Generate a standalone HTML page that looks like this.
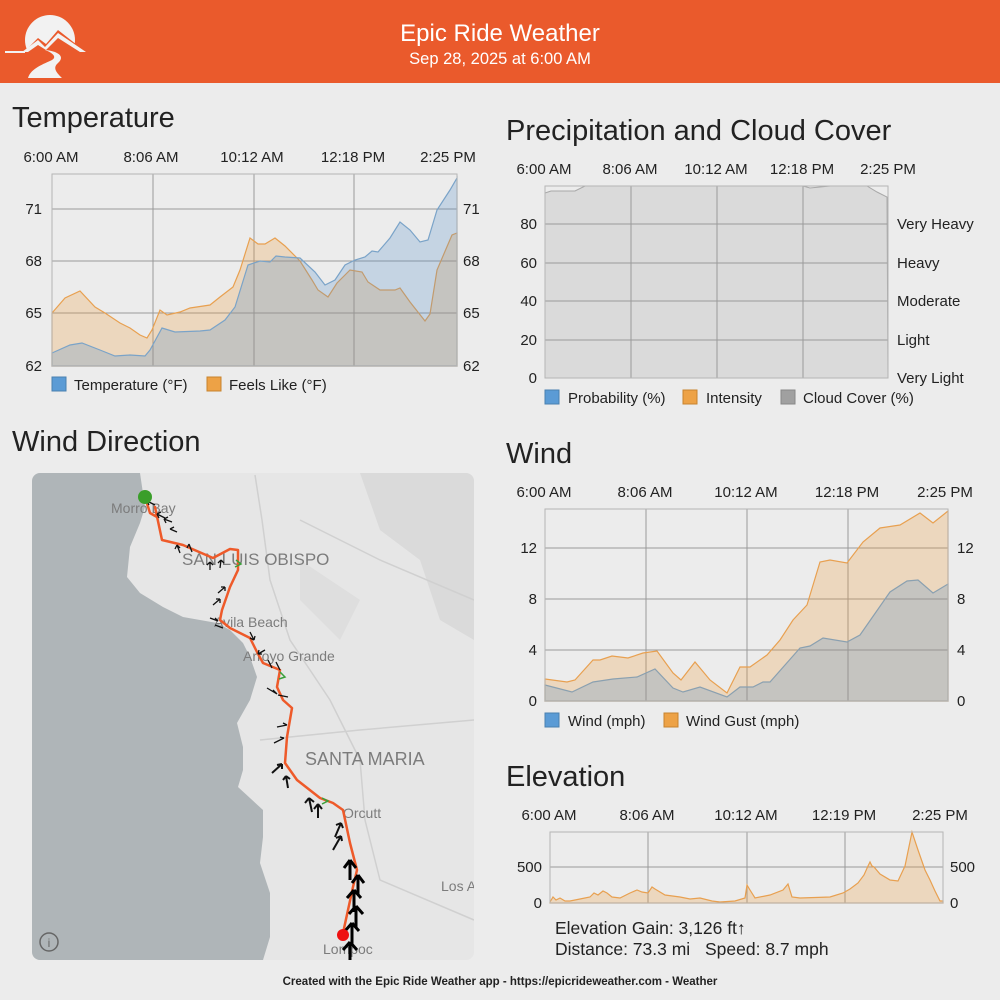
<!DOCTYPE html>
<html><head><meta charset="utf-8"><style>
html,body{margin:0;padding:0;background:#ececec;}
svg{display:block;font-family:"Liberation Sans",sans-serif;}
</style></head><body>
<svg width="1000" height="1000" viewBox="0 0 1000 1000" xmlns="http://www.w3.org/2000/svg">
<rect width="1000" height="1000" fill="#ececec"/>
<!-- header -->
<rect width="1000" height="83" fill="#ea5a2c"/>
<defs><clipPath id="sun"><path d="M0,0 L100,0 L100,52 L86,52 L58,30 L46,44 L38,38 L24,52 L0,52Z"/></clipPath></defs>
<circle cx="50" cy="40" r="25" fill="#f2f2f2" clip-path="url(#sun)"/>
<g fill="#f2f2f2">
<path d="M22,52 L38,40 L45,47 L58,33 L86,52 L80,52 L58,38 L46,50 L38,45 L28,52Z"/>
<rect x="5" y="51" width="20" height="2"/>
<path d="M28,78 C31,68 44,64 52,60 C57,57 53,53 45,50 C57,51 66,56 58,63 C52,68 57,73 62,78Z"/>
</g>
<text x="500" y="41" fill="#fff" font-size="24" text-anchor="middle">Epic Ride Weather</text>
<text x="500" y="64" fill="#fff" font-size="16.5" text-anchor="middle">Sep 28, 2025 at 6:00 AM</text>

<g font-size="15" fill="#222">
<!-- TEMPERATURE -->
<text x="12" y="127" font-size="29">Temperature</text>
<g text-anchor="middle"><text x="51" y="162">6:00 AM</text><text x="151" y="162">8:06 AM</text><text x="252" y="162">10:12 AM</text><text x="353" y="162">12:18 PM</text><text x="448" y="162">2:25 PM</text></g>
<g text-anchor="end"><text x="42" y="214">71</text><text x="42" y="266">68</text><text x="42" y="318">65</text><text x="42" y="371">62</text></g>
<g><text x="463" y="214">71</text><text x="463" y="266">68</text><text x="463" y="318">65</text><text x="463" y="371">62</text></g>
<g stroke="#9a9a9a" stroke-width="1"><line x1="52" y1="209" x2="457" y2="209"/><line x1="52" y1="261" x2="457" y2="261"/><line x1="52" y1="313" x2="457" y2="313"/>
<line x1="153" y1="174" x2="153" y2="366"/><line x1="254" y1="174" x2="254" y2="366"/><line x1="354" y1="174" x2="354" y2="366"/></g>
<path d="M52,313 L65,298 L80,291 L95,307 L105,313 L120,323 L130,328 L140,335 L147,338 L152,330 L160,310 L167,315 L180,312 L190,308 L210,305 L220,297 L233,287 L240,270 L250,238 L258,244 L265,244 L275,238 L285,246 L300,261 L312,280 L318,290 L328,297 L337,283 L345,275 L350,270 L362,272 L368,282 L380,290 L395,290 L400,288 L410,302 L425,321 L430,314 L437,270 L452,235 L457,233 L457,366 L52,366Z" fill="rgba(236,150,50,0.25)" stroke="#e8a050" stroke-width="1.2"/>
<path d="M52,353 L70,345 L82,343 L100,350 L115,356 L130,355 L145,356 L150,350 L162,328 L175,332 L200,331 L210,330 L225,320 L235,307 L248,265 L260,261 L270,262 L276,256 L285,257 L300,258 L315,272 L325,285 L335,280 L345,265 L355,260 L365,257 L372,251 L378,252 L390,238 L400,222 L410,230 L420,242 L428,240 L437,210 L450,190 L457,178 L457,366 L52,366Z" fill="rgba(80,140,200,0.25)" stroke="#7aa3c8" stroke-width="1.2"/>
<rect x="52" y="174" width="405" height="192" fill="none" stroke="#b5b5b5"/>
<rect x="52" y="377" width="14" height="14" fill="#5b9bd5" stroke="#4a80b0"/><text x="74" y="390">Temperature (°F)</text>
<rect x="207" y="377" width="14" height="14" fill="#eda246" stroke="#c8832e"/><text x="229" y="390">Feels Like (°F)</text>

<!-- PRECIP -->
<text x="506" y="140" font-size="29">Precipitation and Cloud Cover</text>
<g text-anchor="middle"><text x="544" y="174">6:00 AM</text><text x="630" y="174">8:06 AM</text><text x="716" y="174">10:12 AM</text><text x="802" y="174">12:18 PM</text><text x="888" y="174">2:25 PM</text></g>
<path d="M545,193 L551,191 L575,191 L585,186 L803,186 L810,188 L820,187 L830,186 L867,186 L877,192 L887,197 L888,378 L545,378Z" fill="#dadada" stroke="#a8a8a8" stroke-width="1"/>
<g stroke="#9a9a9a"><line x1="545" y1="224" x2="888" y2="224"/><line x1="545" y1="263" x2="888" y2="263"/><line x1="545" y1="301" x2="888" y2="301"/><line x1="545" y1="340" x2="888" y2="340"/>
<line x1="631" y1="186" x2="631" y2="378"/><line x1="717" y1="186" x2="717" y2="378"/><line x1="803" y1="186" x2="803" y2="378"/></g>
<rect x="545" y="186" width="343" height="192" fill="none" stroke="#b5b5b5"/>
<g text-anchor="end"><text x="537" y="229">80</text><text x="537" y="268">60</text><text x="537" y="306">40</text><text x="537" y="345">20</text><text x="537" y="383">0</text></g>
<g><text x="897" y="229">Very Heavy</text><text x="897" y="268">Heavy</text><text x="897" y="306">Moderate</text><text x="897" y="345">Light</text><text x="897" y="383">Very Light</text></g>
<rect x="545" y="390" width="14" height="14" fill="#5b9bd5" stroke="#4a80b0"/><text x="568" y="403">Probability (%)</text>
<rect x="683" y="390" width="14" height="14" fill="#eda246" stroke="#c8832e"/><text x="706" y="403">Intensity</text>
<rect x="781" y="390" width="14" height="14" fill="#a0a0a0" stroke="#888"/><text x="803" y="403">Cloud Cover (%)</text>

<!-- WIND -->
<text x="506" y="463" font-size="29">Wind</text>
<g text-anchor="middle"><text x="544" y="497">6:00 AM</text><text x="645" y="497">8:06 AM</text><text x="746" y="497">10:12 AM</text><text x="847" y="497">12:18 PM</text><text x="945" y="497">2:25 PM</text></g>
<g stroke="#9a9a9a"><line x1="545" y1="548" x2="948" y2="548"/><line x1="545" y1="599" x2="948" y2="599"/><line x1="545" y1="650" x2="948" y2="650"/>
<line x1="646" y1="509" x2="646" y2="701"/><line x1="747" y1="509" x2="747" y2="701"/><line x1="848" y1="509" x2="848" y2="701"/></g>
<path d="M545,679 L567,682 L575,680 L593,660 L600,660 L612,656 L628,658 L643,653 L657,651 L673,673 L681,680 L695,662 L710,680 L727,693 L740,667 L750,667 L767,655 L780,640 L793,620 L807,605 L820,562 L830,560 L847,563 L863,542 L880,528 L900,525 L920,513 L933,523 L948,511 L948,701 L545,701Z" fill="rgba(236,150,50,0.25)" stroke="#e8a050" stroke-width="1.2"/>
<path d="M545,685 L572,692 L593,682 L613,679 L637,677 L655,669 L673,688 L683,692 L700,687 L727,697 L740,687 L753,687 L763,682 L770,682 L800,648 L810,646 L823,638 L847,642 L860,635 L890,592 L907,581 L918,580 L933,593 L948,584 L948,701 L545,701Z" fill="rgba(80,140,200,0.25)" stroke="#8aa0b0" stroke-width="1.2"/>
<rect x="545" y="509" width="403" height="192" fill="none" stroke="#b5b5b5"/>
<g text-anchor="end"><text x="537" y="553">12</text><text x="537" y="604">8</text><text x="537" y="655">4</text><text x="537" y="706">0</text></g>
<g><text x="957" y="553">12</text><text x="957" y="604">8</text><text x="957" y="655">4</text><text x="957" y="706">0</text></g>
<rect x="545" y="713" width="14" height="14" fill="#5b9bd5" stroke="#4a80b0"/><text x="568" y="726">Wind (mph)</text>
<rect x="664" y="713" width="14" height="14" fill="#eda246" stroke="#c8832e"/><text x="686" y="726">Wind Gust (mph)</text>

<!-- ELEVATION -->
<text x="506" y="786" font-size="29">Elevation</text>
<g text-anchor="middle"><text x="549" y="820">6:00 AM</text><text x="647" y="820">8:06 AM</text><text x="746" y="820">10:12 AM</text><text x="844" y="820">12:19 PM</text><text x="940" y="820">2:25 PM</text></g>
<g stroke="#9a9a9a"><line x1="550" y1="867" x2="943" y2="867"/>
<line x1="648" y1="832" x2="648" y2="903"/><line x1="747" y1="832" x2="747" y2="903"/><line x1="845" y1="832" x2="845" y2="903"/></g>
<path d="M550,902 L553,897 L556,900 L560,898 L565,901 L570,901 L580,899 L590,897 L594,893 L598,895 L603,891 L607,893 L612,897 L620,898 L630,893 L637,890 L642,892 L648,893 L652,887 L655,889 L665,895 L680,897 L690,899 L700,898 L712,901 L720,902 L735,901 L745,898 L747,885 L750,890 L755,898 L770,895 L783,890 L788,884 L792,897 L800,898 L830,897 L843,893 L850,889 L858,883 L864,875 L868,866 L870,862 L872,866 L874,867 L880,874 L890,880 L898,881 L905,866 L912,832 L918,850 L925,870 L930,880 L935,891 L940,901 L943,901 L943,903 L550,903Z" fill="rgba(236,150,50,0.25)" stroke="#e8a050" stroke-width="1.2"/>
<rect x="550" y="832" width="393" height="71" fill="none" stroke="#b5b5b5"/>
<g text-anchor="end"><text x="542" y="872">500</text><text x="542" y="908">0</text></g>
<g><text x="950" y="872">500</text><text x="950" y="908">0</text></g>
<text x="555" y="934" font-size="17.5">Elevation Gain: 3,126 ft↑</text>
<text x="555" y="955" font-size="17.5">Distance: 73.3 mi<tspan x="705">Speed: 8.7 mph</tspan></text>

<!-- WIND DIRECTION MAP -->
<text x="12" y="451" font-size="29">Wind Direction</text>
</g>
<defs><clipPath id="mc"><rect x="32" y="473" width="442" height="487" rx="8"/></clipPath></defs>
<g clip-path="url(#mc)">
<rect x="32" y="473" width="442" height="487" fill="#e6e6e6"/>
<path d="M360,473 L474,473 L474,640 L440,620 L420,560 L380,530 Z" fill="#dadada"/>
<path d="M300,560 L360,600 L340,640 L300,600Z" fill="#dedede"/>
<g stroke="#d0d0d0" stroke-width="1.5" fill="none"><path d="M255,475 L262,520 L270,580 L290,640 L330,700 L360,760 L365,820 L380,880 L474,920"/><path d="M300,520 L380,560 L474,600"/><path d="M260,740 L360,730 L474,720"/></g>
<path d="M32,473 L140,473 L145,507 L140,523 L130,547 L127,577 L140,593 L163,607 L183,617 L200,620 L217,623 L230,630 L243,643 L250,657 L257,677 L250,700 L237,723 L243,747 L243,770 L238,787 L263,810 L263,837 L260,863 L270,893 L270,937 L263,960 L32,960Z" fill="#afb5b8"/>
<g fill="#7c7c7c" font-size="14">
<text x="111" y="513">Morro Bay</text><text x="182" y="565" font-size="17">SAN LUIS OBISPO</text>
<text x="214" y="627">Avila Beach</text><text x="243" y="661">Arroyo Grande</text>
<text x="305" y="765" font-size="18">SANTA MARIA</text><text x="343" y="818">Orcutt</text>
<text x="441" y="891">Los A</text><text x="323" y="954">Lompoc</text>
</g>
<polyline points="145,497 150,513 157,517 155,507 162,540 183,545 213,558 230,549 238,550 238,570 230,587 222,610 220,620 230,628 250,638 257,652 263,663 280,670 277,687 283,700 292,708 287,737 285,763 297,780 320,798 333,803 343,810 350,843 357,870 353,887 343,933" fill="none" stroke="#ee5a2a" stroke-width="2.5" stroke-linejoin="round"/>
<g stroke="#111" stroke-width="1.3" fill="none">
<path d="M155,505 l-8,-4 m0,0 l4,-2 m-4,2 l2,4"/><path d="M165,518 l-8,-4 m0,0 l4,-2 m-4,2 l2,4"/>
<path d="M172,522 l-8,-3 m0,0 l4,-2 m-4,2 l2,4"/><path d="M177,532 l-7,-3 m0,0 l4,-2"/>
<path d="M180,553 l-3,-8 m0,0 l-2,4 m2,-4 l3,3"/><path d="M192,552 l-3,-8 m0,0 l-2,4"/>
<path d="M210,570 l0,-8 m0,0 l-3,3 m3,-3 l3,3"/><path d="M220,568 l1,-8 m0,0 l-3,3 m3,-3 l3,3"/>
<path d="M213,605 l7,-6 m0,0 l-4,0 m4,0 l0,4"/><path d="M218,593 l7,-6 m0,0 l-4,0 m4,0 l0,4"/>
<path d="M210,618 l8,3 m0,0 l-3,-3"/><path d="M215,625 l8,3"/>
<path d="M250,632 l4,8 m0,0 l1,-4 m-1,4 l-4,-2"/><path d="M265,650 l-7,4 m0,0 l4,0 m-4,0 l1,-4"/>
<path d="M268,660 l4,8"/><path d="M276,662 l4,8"/>
<path d="M267,688 l10,6 m0,0 l-4,-4"/><path d="M278,695 l10,2"/>
<path d="M277,727 l10,-2 m0,0 l-4,-2"/><path d="M274,743 l10,-5 m0,0 l-4,-1"/>
</g>
<g stroke="#111" stroke-width="2" fill="none">
<path d="M272,773 l10,-9 m0,0 l-5,1 m5,-1 l0,5"/><path d="M288,788 l-2,-12 m0,0 l-3,4 m3,-4 l4,3"/>
<path d="M312,812 l-3,-14 m0,0 l-4,5 m4,-5 l5,4"/><path d="M318,818 l0,-14 m0,0 l-4,5 m4,-5 l4,5"/>
<path d="M335,837 l6,-14 m0,0 l-5,2 m5,-2 l2,5"/><path d="M333,850 l8,-14 m0,0 l-5,2 m5,-2 l1,5"/>
</g>
<g stroke="#000" stroke-width="3" fill="none">
<path d="M350,880 l0,-20 m0,0 l-6,8 m6,-8 l6,8"/><path d="M358,895 l0,-20 m0,0 l-6,8 m6,-8 l6,8"/>
<path d="M354,912 l0,-22 m0,0 l-7,8 m7,-8 l7,8"/><path d="M356,928 l0,-22 m0,0 l-7,8 m7,-8 l7,8"/>
<path d="M352,945 l0,-22 m0,0 l-7,8 m7,-8 l7,8"/><path d="M350,962 l0,-20 m0,0 l-7,8 m7,-8 l7,8"/>
</g>
<g stroke="#3aa03a" stroke-width="1.5" fill="none"><path d="M236,560 l5,4 l-6,3"/><path d="M280,672 l5,5 l-6,2"/><path d="M322,798 l6,3 l-6,3"/></g>
<circle cx="145" cy="497" r="7" fill="#3a9e2a"/>
<circle cx="343" cy="935" r="6" fill="#ee1111"/>
<circle cx="49" cy="942" r="9" fill="none" stroke="#666" stroke-width="1.5"/><text x="49" y="947" font-size="12" fill="#666" text-anchor="middle">i</text>
</g>
<text x="500" y="985" font-size="11.5" fill="#222" text-anchor="middle" font-weight="bold">Created with the Epic Ride Weather app - https://epicrideweather.com - Weather</text>
</svg>
</body></html>
